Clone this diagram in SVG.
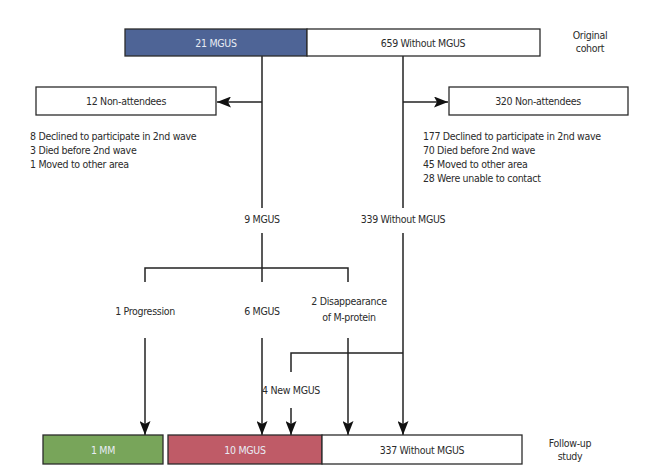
<svg xmlns="http://www.w3.org/2000/svg" width="645" height="473" viewBox="0 0 645 473">
<style>
text{font-family:"DejaVu Sans Condensed","Liberation Sans",sans-serif;font-size:10.5px;letter-spacing:-0.3px;fill:#2b2b2b}
.c{text-anchor:middle}
.w{fill:#e8ecf4}
.box{stroke:#2b2b2b;stroke-width:1.3}
.ln{stroke:#222;stroke-width:1.5;fill:none}
</style>
<defs>
<marker id="ah" viewBox="0 0 14 11" refX="14" refY="5.5" markerWidth="14" markerHeight="11" markerUnits="userSpaceOnUse" orient="auto">
<path d="M0,0 L14,5.5 L0,11 L3,5.5 Z" fill="#111"/>
</marker>
</defs>
<rect width="645" height="473" fill="#fff"/>
<g id="connectors">
<path class="ln" d="M262,56 V208"/>
<path class="ln" d="M403,56 V208"/>
<path class="ln" d="M262,102 H217" marker-end="url(#ah)"/>
<path class="ln" d="M403,102 H448" marker-end="url(#ah)"/>
<path class="ln" d="M262,233 V282"/>
<path class="ln" d="M145,282 V268 H348 V282"/>
<path class="ln" d="M145,338 V435" marker-end="url(#ah)"/>
<path class="ln" d="M262,338 V435" marker-end="url(#ah)"/>
<path class="ln" d="M348,338 V435" marker-end="url(#ah)"/>
<path class="ln" d="M403,233 V435" marker-end="url(#ah)"/>
<path class="ln" d="M403,353 H291 V372"/>
<path class="ln" d="M291,408 V435" marker-end="url(#ah)"/>
</g>
<g id="original">
<rect class="box" x="125" y="29" width="182" height="27" fill="#4e6496"/>
<text class="c w" x="216" y="46.5">21 MGUS</text>
<rect class="box" x="307" y="29" width="233" height="27" fill="#fff"/>
<text class="c" x="423" y="46.5">659 Without MGUS</text>
<text class="c" x="590" y="39">Original</text>
<text class="c" x="590" y="52">cohort</text>
</g>
<g id="nonatt-left">
<rect class="box" x="36" y="87" width="180" height="28" fill="#fff"/>
<text class="c" x="126" y="105">12 Non-attendees</text>
<text x="30" y="140">8 Declined to participate in 2nd wave</text>
<text x="30" y="154">3 Died before 2nd wave</text>
<text x="30" y="168">1 Moved to other area</text>
</g>
<g id="nonatt-right">
<rect class="box" x="449" y="87" width="179" height="28" fill="#fff"/>
<text class="c" x="538" y="105">320 Non-attendees</text>
<text x="423" y="140">177 Declined to participate in 2nd wave</text>
<text x="423" y="154">70 Died before 2nd wave</text>
<text x="423" y="168">45 Moved to other area</text>
<text x="423" y="182">28 Were unable to contact</text>
</g>
<g id="mid">
<text class="c" x="262" y="223">9 MGUS</text>
<text class="c" x="403" y="223">339 Without MGUS</text>
<text class="c" x="145" y="315">1 Progression</text>
<text class="c" x="262" y="315">6 MGUS</text>
<text class="c" x="349" y="305">2 Disappearance</text>
<text class="c" x="349" y="321">of M-protein</text>
<text class="c" x="291" y="394">4 New MGUS</text>
</g>
<g id="followup">
<rect class="box" x="43" y="435" width="120" height="29" fill="#78a55a"/>
<text class="c w" x="103" y="453.5">1 MM</text>
<rect class="box" x="168" y="435" width="154" height="29" fill="#bf5b67"/>
<text class="c w" x="245" y="453.5">10 MGUS</text>
<rect class="box" x="322" y="435" width="200" height="29" fill="#fff"/>
<text class="c" x="422" y="453.5">337 Without MGUS</text>
<text class="c" x="570" y="447">Follow-up</text>
<text class="c" x="570" y="460">study</text>
</g>
</svg>
